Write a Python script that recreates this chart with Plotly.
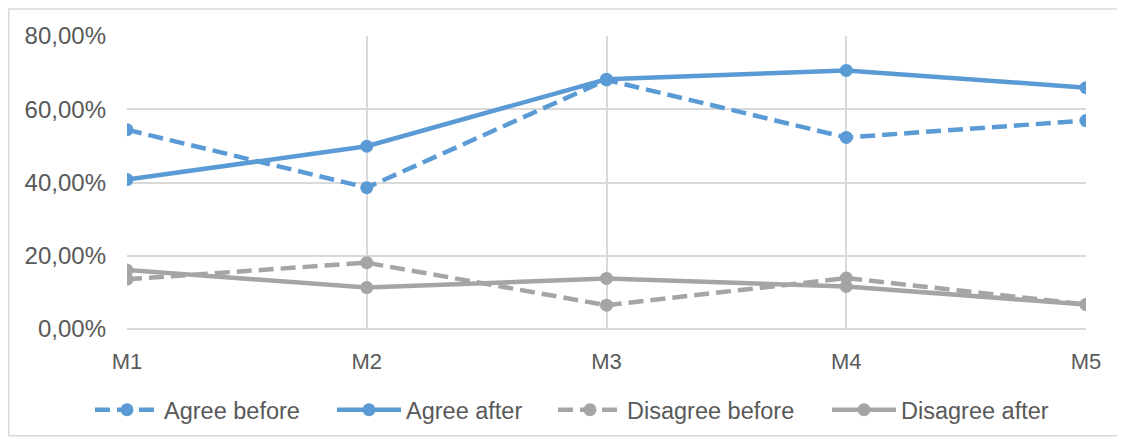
import plotly.graph_objects as go

categories = ["M1", "M2", "M3", "M4", "M5"]
agree_before = [0.544, 0.386, 0.680, 0.523, 0.569]
agree_after = [0.408, 0.499, 0.682, 0.706, 0.659]
disagree_before = [0.136, 0.181, 0.065, 0.139, 0.067]
disagree_after = [0.161, 0.113, 0.138, 0.116, 0.067]

BLUE = "#5B9BD5"
GRAY = "#A5A5A5"
TXT = "#595959"
GRID = "#D9D9D9"
FONT = "Liberation Sans, Arial, sans-serif"

# page has an 8px body margin; work in figure coordinates
OFF = 8
W, H = 1125 - OFF, 443 - OFF
L, T = 127 - OFF, 36 - OFF
R = W - (1086 - OFF)
B = H - (330 - OFF)
pw, ph = W - L - R, H - T - B

def px2paper_x(px):
    return (px - OFF - L) / pw

def px2paper_y(py):
    return (H - B - (py - OFF)) / ph

series = [
    ("Agree before", agree_before, BLUE, "15px,7px", "legend", 96),
    ("Agree after", agree_after, BLUE, "solid", "legend2", 338),
    ("Disagree before", disagree_before, GRAY, "15px,7px", "legend3", 559),
    ("Disagree after", disagree_after, GRAY, "solid", "legend4", 833),
]

fig = go.Figure()
legends = {}
for name, vals, col, dash, lg, lx in series:
    fig.add_trace(go.Scatter(
        x=categories, y=vals, name=name, mode="lines+markers",
        line=dict(color=col, width=4.5, dash=dash),
        marker=dict(color=col, size=13, symbol="circle"),
        legend=lg,
    ))
    legends[lg] = dict(orientation="h", x=px2paper_x(lx - 6), xanchor="left",
                       y=px2paper_y(410), yanchor="middle",
                       font=dict(family=FONT, size=23.5, color=TXT),
                       itemwidth=64, bgcolor="rgba(0,0,0,0)")

fig.add_shape(type="rect", xref="paper", yref="paper",
              x0=px2paper_x(8.8), x1=px2paper_x(1118),
              y0=px2paper_y(437), y1=px2paper_y(8.8),
              line=dict(color=GRID, width=1.5), layer="below")

fig.update_layout(
    width=W, height=H,
    margin=dict(l=L, r=R, t=T, b=B, pad=0),
    paper_bgcolor="white", plot_bgcolor="white",
    separators=", ",
    font=dict(family=FONT, size=22, color=TXT),
    showlegend=True,
    xaxis=dict(type="category", range=[0, 4], showgrid=True, gridcolor=GRID,
               gridwidth=1.8, showline=False, zeroline=False, ticks="",
               ticklabelstandoff=17,
               tickfont=dict(family=FONT, size=22, color=TXT)),
    yaxis=dict(range=[0, 0.8], tickvals=[0, 0.2, 0.4, 0.6, 0.8],
               tickformat=".2%", showgrid=True, gridcolor=GRID, gridwidth=1.8,
               zeroline=True, zerolinecolor=GRID, zerolinewidth=1.8,
               showline=False, ticks="", ticklabelstandoff=20,
               tickfont=dict(family=FONT, size=24, color=TXT)),
    **legends,
)

fig.write_html("out.html")
